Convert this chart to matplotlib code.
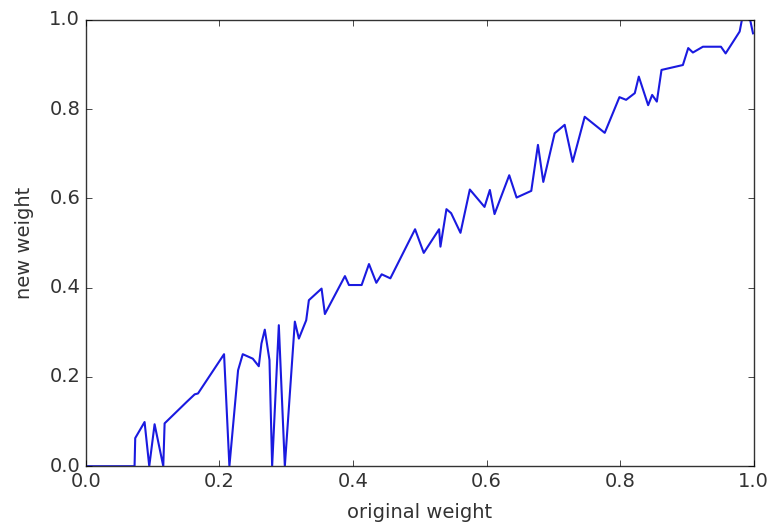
import matplotlib
matplotlib.use("Agg")
import matplotlib.pyplot as plt

# values
original_weight = [
    0.0, 0.073, 0.074, 0.088, 0.095, 0.103, 0.116, 0.118, 0.151, 0.163,
    0.168, 0.207, 0.215, 0.228, 0.235, 0.250, 0.259, 0.263, 0.268, 0.275,
    0.279, 0.289, 0.298, 0.313, 0.319, 0.330, 0.334, 0.353, 0.358, 0.388,
    0.394, 0.413, 0.424, 0.435, 0.443, 0.456, 0.493, 0.506, 0.529, 0.531,
    0.540, 0.547, 0.561, 0.575, 0.597, 0.605, 0.612, 0.634, 0.645, 0.667,
    0.677, 0.685, 0.702, 0.717, 0.729, 0.747, 0.777, 0.799, 0.809, 0.822,
    0.828, 0.842, 0.848, 0.855, 0.862, 0.894, 0.902, 0.909, 0.924, 0.951,
    0.958, 0.979, 0.983, 0.994, 0.999,
]
new_weight = [
    0.0, 0.0, 0.063, 0.099, 0.0, 0.094, 0.0, 0.096, 0.144, 0.161,
    0.163, 0.251, 0.0, 0.215, 0.251, 0.241, 0.224, 0.275, 0.306, 0.238,
    0.0, 0.316, 0.0, 0.324, 0.286, 0.327, 0.372, 0.398, 0.341, 0.426,
    0.406, 0.406, 0.453, 0.411, 0.430, 0.421, 0.531, 0.478, 0.531, 0.492,
    0.576, 0.567, 0.523, 0.620, 0.581, 0.619, 0.565, 0.652, 0.602, 0.617,
    0.720, 0.637, 0.746, 0.765, 0.682, 0.783, 0.747, 0.827, 0.821, 0.836,
    0.873, 0.809, 0.832, 0.817, 0.888, 0.899, 0.937, 0.927, 0.940, 0.940,
    0.925, 0.974, 1.005, 1.005, 0.970,
]

plt.style.use("classic")
plt.rcParams["font.family"] = ["DejaVu Sans"]
fig = plt.figure(figsize=(7.73, 5.25), dpi=100, facecolor="white")
ax = fig.add_axes([0.111, 0.112, 0.864, 0.850])
ax.plot(original_weight, new_weight, color="#1a1ae0", lw=1.5)
ax.set_xlim(0, 1)
ax.set_ylim(0, 1)
ax.set_xticks([0.0, 0.2, 0.4, 0.6, 0.8, 1.0])
ax.set_yticks([0.0, 0.2, 0.4, 0.6, 0.8, 1.0])
ax.tick_params(labelsize=14, labelcolor="#333333")
ax.set_xlabel("original weight", fontsize=14, color="#333333", labelpad=9)
ax.set_ylabel("new weight", fontsize=14, color="#333333", labelpad=11)
for s in ax.spines.values():
    s.set_color("#333333")
fig.savefig("out.png", dpi=100, facecolor="white")
